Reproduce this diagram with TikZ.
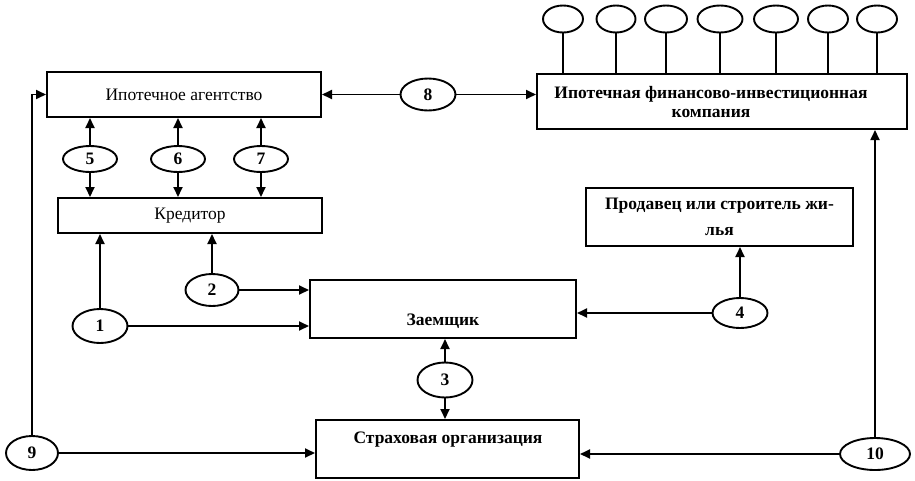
\documentclass[tikz,border=0pt]{standalone}
\usepackage{fontspec}
\setmainfont{Liberation Serif}
\usetikzlibrary{shapes.geometric,arrows.meta}
\begin{document}
\begin{tikzpicture}[x=1pt,y=-1pt,
  box/.style={draw, line width=2pt, inner sep=0pt, font=\fontsize{17.5}{17.5}\selectfont},
  bf/.style={font=\bfseries\fontsize{17.5}{17.5}\selectfont},
  lbl/.style={inner sep=0pt},
  ell/.style={draw, ellipse, line width=1.9pt, inner sep=0pt, font=\bfseries\fontsize{17.5}{17.5}\selectfont},
  arr/.style={line width=1.8pt, -{Triangle[length=10pt,width=9pt]}},
  ln/.style={line width=1.8pt}]
\useasboundingbox (0,0) rectangle (915,480);
\fill[white] (0,0) rectangle (915,480);

% boxes
\node[box, minimum width=274pt, minimum height=45pt] (agent) at (184,94.5) {Ипотечное агентство};
\node[box, minimum width=370pt, minimum height=55pt] (comp) at (722,101.5) {};
\node[lbl, font=\bfseries\fontsize{17.5}{18.5}\selectfont, align=center] (compT) at (711,102) {Ипотечная финансово-инвестиционная\\компания};
\node[box, minimum width=264pt, minimum height=35pt] (kred) at (190,215.5) {Кредитор};
\node[box, minimum width=266pt, minimum height=58pt] (zaem) at (443,309) {};
\node[lbl, bf] (zaemT) at (443,321) {Заемщик};
\node[box, bf, minimum width=267pt, minimum height=58pt, align=center] (prod) at (719.5,217) {Продавец или строитель жи-\\[8.5pt]лья};
\node[box, minimum width=263pt, minimum height=58pt] (strah) at (447.5,449) {};
\node[lbl, bf] (strahT) at (448,440) {Страховая организация};

% numbered ellipses
\node[ell, minimum width=54pt, minimum height=26pt] (e5) at (90,159) {5};
\node[ell, minimum width=54pt, minimum height=26pt] (e6) at (178,159) {6};
\node[ell, minimum width=54pt, minimum height=26pt] (e7) at (261,159) {7};
\node[ell, minimum width=55pt, minimum height=32pt] (e8) at (428,94.5) {8};
\node[ell, minimum width=55pt, minimum height=34pt] (e1) at (100,326) {1};
\node[ell, minimum width=53pt, minimum height=32pt] (e2) at (212,290) {2};
\node[ell, minimum width=55pt, minimum height=35pt] (e3) at (445,380) {3};
\node[ell, minimum width=55pt, minimum height=30pt] (e4) at (740,313) {4};
\node[ell, minimum width=52pt, minimum height=34pt] (e9) at (32,453) {9};
\node[ell, minimum width=70pt, minimum height=32pt] (e10) at (875,454) {10};

% top ellipses
\node[ell, minimum width=40pt, minimum height=27pt] (t1) at (563,19) {};
\node[ell, minimum width=39pt, minimum height=27pt] (t2) at (616,19) {};
\node[ell, minimum width=42pt, minimum height=27pt] (t3) at (666,19) {};
\node[ell, minimum width=45pt, minimum height=27pt] (t4) at (720,19) {};
\node[ell, minimum width=44pt, minimum height=27pt] (t5) at (776,19) {};
\node[ell, minimum width=40pt, minimum height=27pt] (t6) at (828,19) {};
\node[ell, minimum width=40pt, minimum height=27pt] (t7) at (877,19) {};

\foreach \t in {t1,t2,t3,t4,t5,t6,t7}
  \draw[ln] (\t.south) -- (comp.north -| \t.south);

% connectors
\draw[arr] (e5.north) -- (agent.south -| e5.north);
\draw[arr] (e5.south) -- (kred.north -| e5.south);
\draw[arr] (e6.north) -- (agent.south -| e6.north);
\draw[arr] (e6.south) -- (kred.north -| e6.south);
\draw[arr] (e7.north) -- (agent.south -| e7.north);
\draw[arr] (e7.south) -- (kred.north -| e7.south);
\draw[arr] (e8.west) -- (agent.east |- e8.west);
\draw[arr] (e8.east) -- (comp.west |- e8.east);
\draw[arr] (e1.north) -- (kred.south -| e1.north);
\draw[arr] (e1.east) -- (zaem.west |- e1.east);
\draw[arr] (e2.north) -- (kred.south -| e2.north);
\draw[arr] (e2.east) -- (zaem.west |- e2.east);
\draw[arr] (e3.north) -- (zaem.south -| e3.north);
\draw[arr] (e3.south) -- (strah.north -| e3.south);
\draw[arr] (e4.north) -- (prod.south -| e4.north);
\draw[arr] (e4.west) -- (zaem.east |- e4.west);
\draw[arr] (e9.north) |- (agent.west);
\draw[arr] (e9.east) -- (strah.west |- e9.east);
\draw[arr] (e10.north) -- (comp.south -| e10.north);
\draw[arr] (e10.west) -- (strah.east |- e10.west);
\end{tikzpicture}
\end{document}
